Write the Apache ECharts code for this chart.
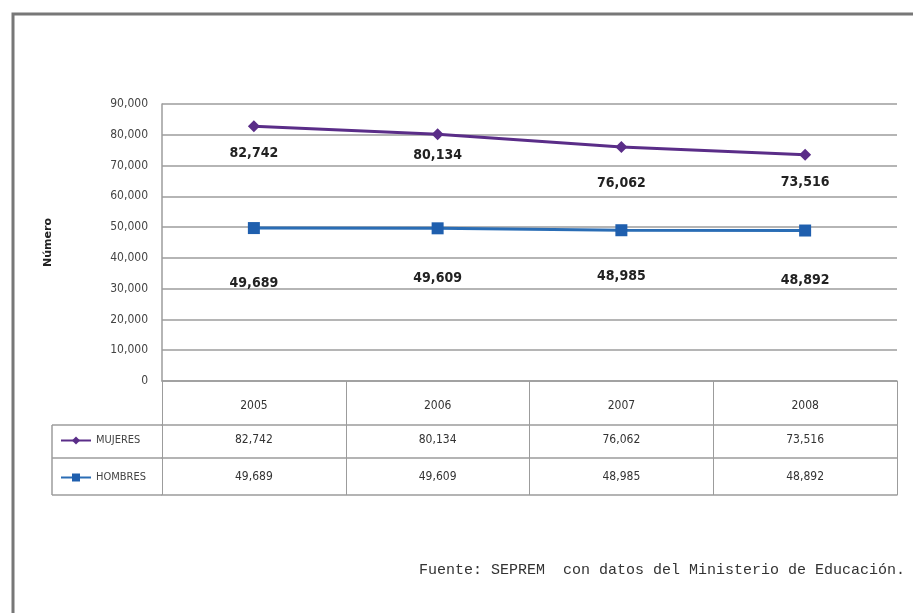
<!DOCTYPE html>
<html>
<head>
<meta charset="utf-8">
<script src="https://cdn.jsdelivr.net/npm/echarts@6/dist/echarts.min.js"></script>
<style>
  html, body { margin: 0; background: #fff; }
  #chart { width: 913px; height: 613px; }
</style>
</head>
<body>
<div id="chart"></div>
<script>
  // data
  const years = ['2005', '2006', '2007', '2008'];
  const mujeres = [82742, 80134, 76062, 73516];
  const hombres = [49689, 49609, 48985, 48892];
  const seriesNames = ['MUJERES', 'HOMBRES'];
  const yMin = 0, yMax = 90000, yStep = 10000;

  // label placement under each point (px), kept apart from the data
  const mujeresLabelDy = [27, 21, 36, 28];
  const hombresLabelDy = [55, 50, 46, 50];

  const narrow = "'Liberation Sans Narrow', 'DejaVu Sans Condensed', 'Noto Sans', sans-serif";
  const gridColor = '#9c9c9c';
  const fmt = (v) => Number(v).toLocaleString('en-US');

  const withLabels = (values, dys) => values.map((v, i) => ({
    value: v,
    label: { offset: [0, dys[i]] },
  }));

  const tableAxis = (offset, tickLen, labels, margin) => ({
    type: 'category',
    data: years,
    position: 'bottom',
    offset: offset,
    boundaryGap: true,
    axisLine: { show: true, lineStyle: { color: gridColor, width: 1.5 } },
    axisTick: { show: !!tickLen, length: tickLen || 0, lineStyle: { color: gridColor, width: 1 } },
    axisLabel: {
      show: !!labels,
      margin: margin || 0,
      color: '#333',
      fontSize: 12,
      fontFamily: narrow,
      formatter: (v, i) => (labels ? labels(v, i) : ''),
    },
    splitLine: { show: false },
  });

  const chart = echarts.init(document.getElementById('chart'));
  chart.setOption({
    animation: false,
    backgroundColor: '#fff',
    grid: { left: 162, right: 16, top: 104, bottom: 232 },
    legend: {
      data: seriesNames,
      orient: 'vertical',
      left: 55,
      top: 430,
      itemWidth: 30,
      itemHeight: 10,
      itemGap: 26,
      textStyle: { fontSize: 11, color: '#444', fontFamily: narrow },
    },
    xAxis: [
      tableAxis(0, 44, (v) => v, 19),
      tableAxis(44, 33, (v, i) => fmt(mujeres[i]), 9),
      tableAxis(77, 37, (v, i) => fmt(hombres[i]), 13),
      tableAxis(114, 0, null, 0),
    ],
    yAxis: {
      type: 'value',
      min: yMin,
      max: yMax,
      interval: yStep,
      name: 'Número',
      nameLocation: 'middle',
      nameRotate: 90,
      nameGap: 108,
      nameTextStyle: { fontSize: 11, fontWeight: 'bold', color: '#222', fontFamily: "'DejaVu Sans', sans-serif" },
      axisLine: { show: true, lineStyle: { color: gridColor, width: 1.5 } },
      axisTick: { show: false },
      axisLabel: { margin: 14, color: '#444', fontSize: 12, fontFamily: narrow, formatter: fmt },
      splitLine: { lineStyle: { color: gridColor, width: 1.5 } },
    },
    series: [
      {
        name: seriesNames[0],
        type: 'line',
        xAxisIndex: 0,
        data: withLabels(mujeres, mujeresLabelDy),
        symbol: 'diamond',
        symbolSize: 12,
        lineStyle: { color: '#5a2d88', width: 3 },
        itemStyle: { color: '#5a2d88' },
        label: {
          show: true,
          position: 'inside',
          formatter: (p) => fmt(p.value),
          color: '#222',
          fontSize: 14,
          fontWeight: 'bold',
          fontFamily: narrow,
        },
      },
      {
        name: seriesNames[1],
        type: 'line',
        xAxisIndex: 0,
        data: withLabels(hombres, hombresLabelDy),
        symbol: 'rect',
        symbolSize: 12,
        lineStyle: { color: '#2a6db5', width: 3 },
        itemStyle: { color: '#1f5fae' },
        label: {
          show: true,
          position: 'inside',
          formatter: (p) => fmt(p.value),
          color: '#222',
          fontSize: 14,
          fontWeight: 'bold',
          fontFamily: narrow,
        },
      },
    ],
    graphic: [
      {
        type: 'rect',
        shape: { x: 13, y: 14, width: 1000, height: 700 },
        style: { fill: 'none', stroke: '#777', lineWidth: 3 },
        silent: true,
      },
      // legend column of the data table
      { type: 'line', shape: { x1: 52, y1: 425, x2: 52, y2: 495 }, style: { stroke: gridColor, lineWidth: 1.5 } },
      { type: 'line', shape: { x1: 52, y1: 425, x2: 162, y2: 425 }, style: { stroke: gridColor, lineWidth: 1.5 } },
      { type: 'line', shape: { x1: 52, y1: 458, x2: 162, y2: 458 }, style: { stroke: gridColor, lineWidth: 1.5 } },
      { type: 'line', shape: { x1: 52, y1: 495, x2: 162, y2: 495 }, style: { stroke: gridColor, lineWidth: 1.5 } },
      {
        type: 'text',
        x: 905,
        y: 570,
        style: {
          text: 'Fuente: SEPREM  con datos del Ministerio de Educación.',
          textAlign: 'right',
          textVerticalAlign: 'middle',
          font: "15px 'Liberation Mono', 'DejaVu Sans Mono', monospace",
          fill: '#333',
        },
      },
    ],
  });
</script>
</body>
</html>
